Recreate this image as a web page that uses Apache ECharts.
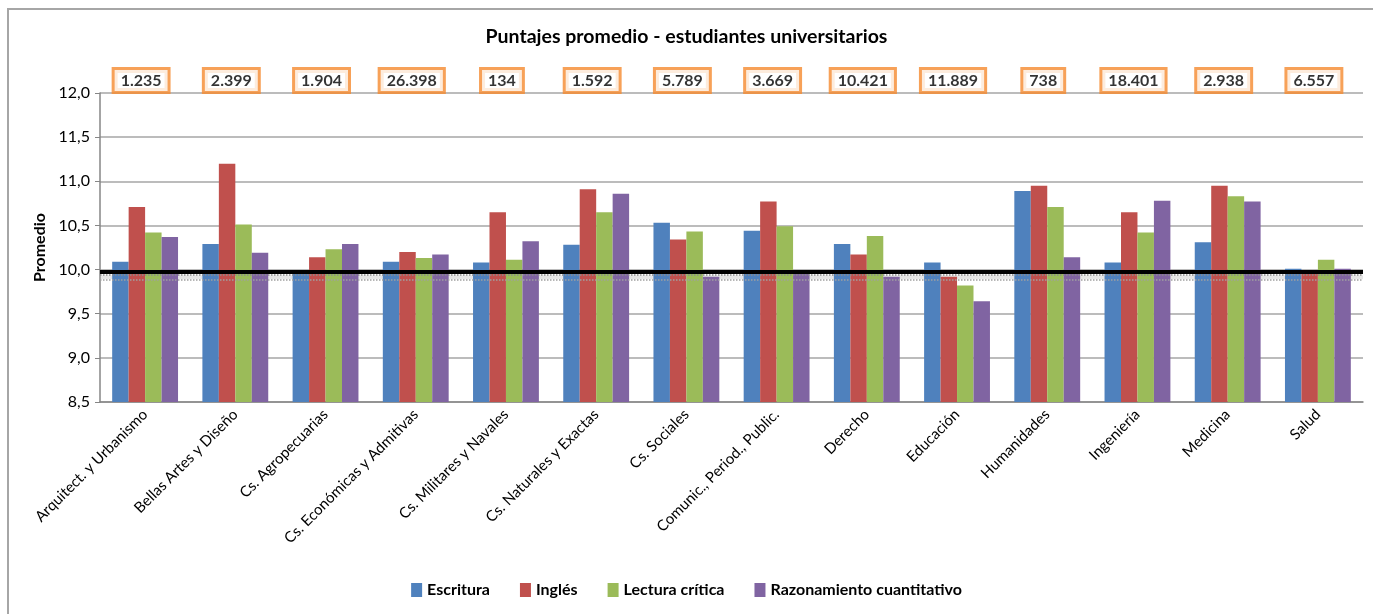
<!DOCTYPE html>
<html>
<head>
<meta charset="utf-8">
<script src="https://cdn.jsdelivr.net/npm/echarts@6/dist/echarts.min.js"></script>
<style>
  html, body { margin: 0; padding: 0; background: #fff; }
  #chart { width: 1373px; height: 614px; }
  #frame { position: absolute; left: 7px; top: 8px; width: 1380px; height: 620px;
           border-top: 2px solid #a6a6a6; border-left: 2px solid #a6a6a6; pointer-events: none; }
</style>
</head>
<body>
<div id="chart"></div>
<div id="frame"></div>
<script>
const categories = ['Arquitect. y Urbanismo', 'Bellas Artes y Diseño', 'Cs. Agropecuarias',
  'Cs. Económicas y Admitivas', 'Cs. Militares y Navales', 'Cs. Naturales y Exactas', 'Cs. Sociales',
  'Comunic., Period., Public.', 'Derecho', 'Educación', 'Humanidades', 'Ingeniería', 'Medicina', 'Salud'];
const escritura = [10.09, 10.29, 9.98, 10.09, 10.08, 10.28, 10.53, 10.44, 10.29, 10.08, 10.89, 10.08, 10.31, 10.01];
const ingles = [10.71, 11.20, 10.14, 10.20, 10.65, 10.91, 10.34, 10.77, 10.17, 9.92, 10.95, 10.65, 10.95, 9.96];
const lectura = [10.42, 10.51, 10.23, 10.13, 10.11, 10.65, 10.43, 10.49, 10.38, 9.82, 10.71, 10.42, 10.83, 10.11];
const razonamiento = [10.37, 10.19, 10.29, 10.17, 10.32, 10.86, 9.92, 9.97, 9.92, 9.64, 10.14, 10.78, 10.77, 10.01];
const counts = ['1.235', '2.399', '1.904', '26.398', '134', '1.592', '5.789', '3.669', '10.421',
  '11.889', '738', '18.401', '2.938', '6.557'];
const refLine = 9.97;
const bandLines = [9.935, 9.89];
const yMin = 8.5, yMax = 12, yStep = 0.5;

const FONT = 'Lato, "Open Sans", sans-serif';

const chart = echarts.init(document.getElementById('chart'));

function barSeries(name, data, color) {
  return {
    name: name,
    type: 'bar',
    data: data,
    barGap: '0%',
    barCategoryGap: '27%',
    itemStyle: { color: color }
  };
}

const series = [
  barSeries('Escritura', escritura, '#4f81bd'),
  barSeries('Inglés', ingles, '#c0504d'),
  barSeries('Lectura crítica', lectura, '#9bbb59'),
  barSeries('Razonamiento cuantitativo', razonamiento, '#8064a2'),
  {
    name: 'counts',
    type: 'scatter',
    data: counts.map(() => yMax),
    symbolSize: 0,
    clip: false,
    silent: true,
    z: 10,
    label: {
      show: true,
      position: 'top',
      distance: 2,
      offset: [-4, 0],
      formatter: p => counts[p.dataIndex],
      fontFamily: FONT,
      fontWeight: 'bold',
      fontSize: 16,
      color: '#000',
      backgroundColor: '#fff',
      borderColor: '#f58a2e',
      borderWidth: 3,
      padding: [3, 6, 2, 6]
    }
  },
  {
    name: 'ref',
    type: 'line',
    data: [],
    silent: true,
    markArea: {
      silent: true,
      itemStyle: { color: 'rgba(170,170,170,0.3)' },
      data: [[{ yAxis: bandLines[1] }, { yAxis: bandLines[0] }]]
    },
    markLine: {
      symbol: 'none',
      silent: true,
      animation: false,
      label: { show: false },
      data: [
        { yAxis: refLine, lineStyle: { color: '#000', width: 4, type: 'solid' } },
        { yAxis: bandLines[0], lineStyle: { color: '#8a8a8a', width: 1.5, type: 'dotted' } },
        { yAxis: bandLines[1], lineStyle: { color: '#a0a0a0', width: 1.5, type: 'dotted' } }
      ]
    }
  }
];

chart.setOption({
  animation: false,
  textStyle: { fontFamily: FONT },
  title: {
    text: 'Puntajes promedio - estudiantes universitarios',
    left: 'center',
    top: 22,
    textStyle: { fontFamily: FONT, fontWeight: 'bold', fontSize: 19.5, color: '#000' }
  },
  legend: {
    data: ['Escritura', 'Inglés', 'Lectura crítica', 'Razonamiento cuantitativo'],
    left: 'center',
    bottom: 11,
    icon: 'rect',
    itemWidth: 11,
    itemHeight: 14,
    itemGap: 30,
    textStyle: { fontFamily: FONT, fontWeight: 'bold', fontSize: 16, color: '#000' }
  },
  grid: { left: 100, right: 10, top: 93, bottom: 212 },
  xAxis: {
    type: 'category',
    data: categories,
    axisLine: { lineStyle: { color: '#868686', width: 1.5 } },
    axisTick: { length: 5, lineStyle: { color: '#868686' } },
    axisLabel: { interval: 0, rotate: 45, fontSize: 15, color: '#000', margin: 10 }
  },
  yAxis: {
    type: 'value',
    min: yMin,
    max: yMax,
    interval: yStep,
    name: 'Promedio',
    nameLocation: 'middle',
    nameGap: 52,
    nameTextStyle: { fontFamily: FONT, fontWeight: 'bold', fontSize: 16, color: '#000' },
    axisLine: { show: true, lineStyle: { color: '#868686', width: 1.5 } },
    axisTick: { show: true, length: 5, lineStyle: { color: '#868686' } },
    axisLabel: { fontSize: 16, color: '#000', margin: 10, formatter: v => v.toFixed(1).replace('.', ',') },
    splitLine: { lineStyle: { color: '#a6a6a6', width: 1.5 } }
  },
  series: series
});
</script>
</body>
</html>
